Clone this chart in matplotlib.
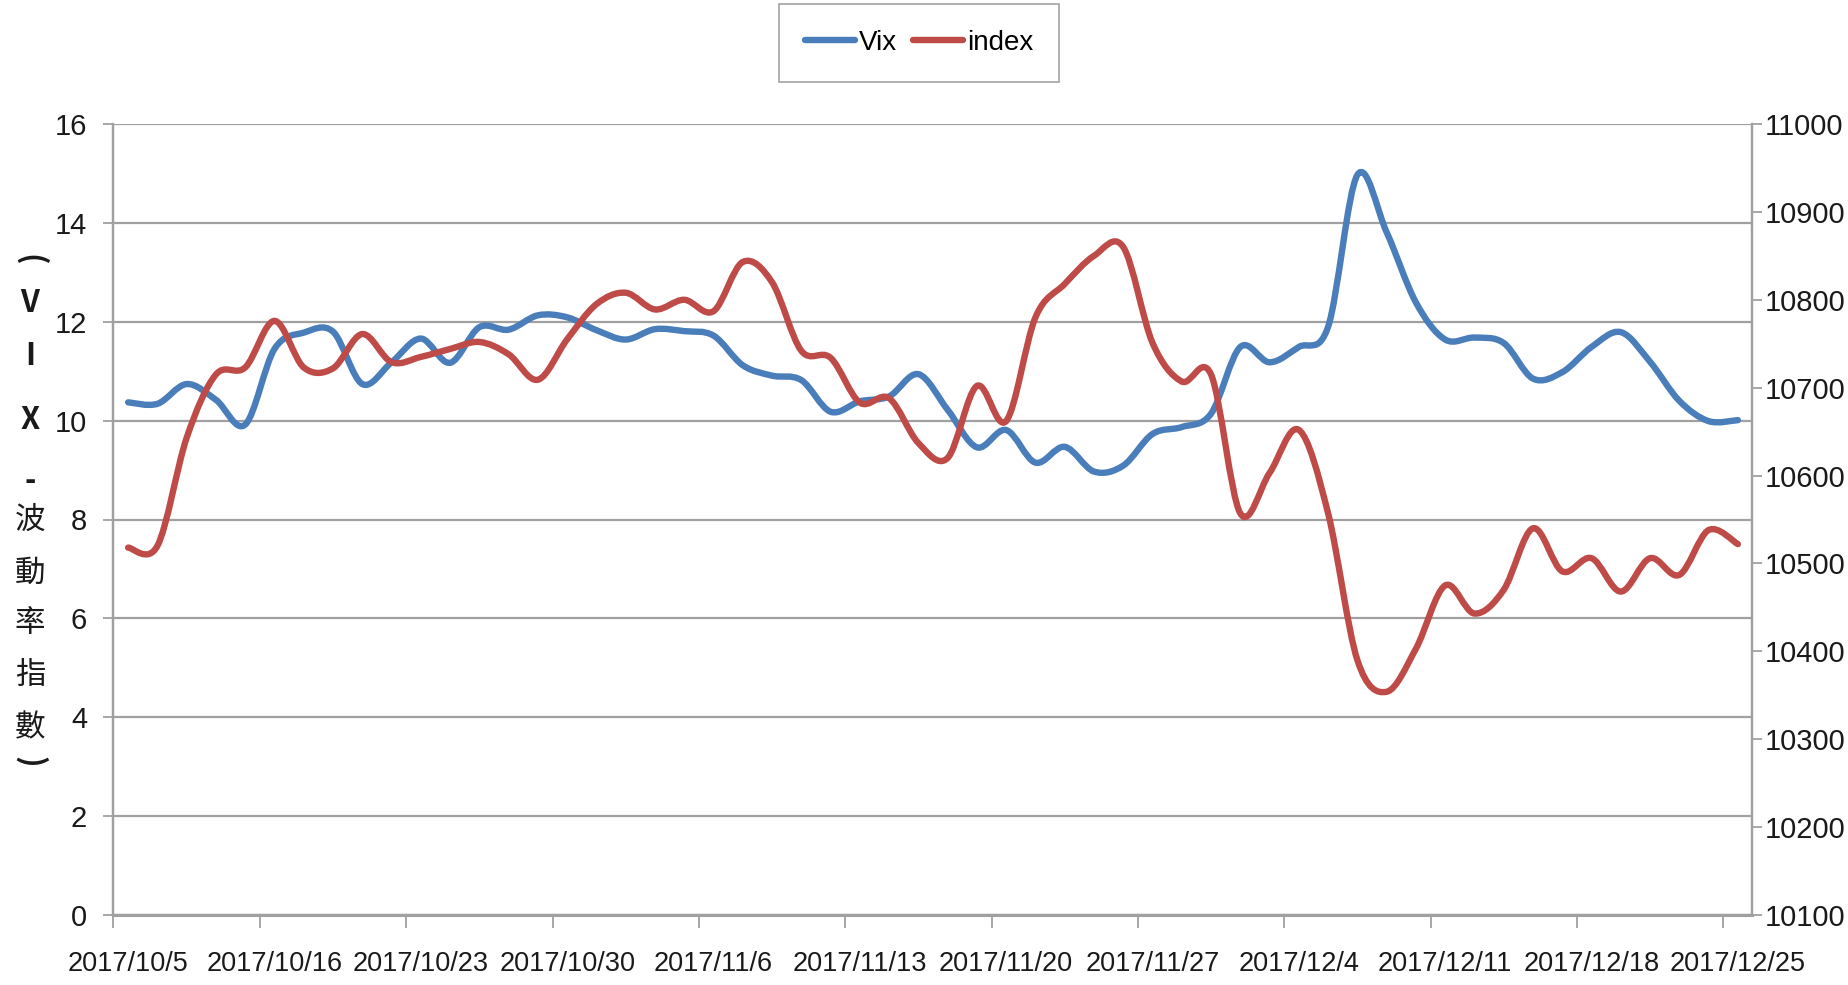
import matplotlib
matplotlib.use('Agg')
import matplotlib.pyplot as plt
from matplotlib.path import Path
from matplotlib.patches import PathPatch
from matplotlib.lines import Line2D

# ---------------- data ----------------
dates = ['2017/10/5', '2017/10/6', '2017/10/11', '2017/10/12', '2017/10/13',
         '2017/10/16', '2017/10/17', '2017/10/18', '2017/10/19', '2017/10/20',
         '2017/10/23', '2017/10/24', '2017/10/25', '2017/10/26', '2017/10/27',
         '2017/10/30', '2017/10/31', '2017/11/1', '2017/11/2', '2017/11/3',
         '2017/11/6', '2017/11/7', '2017/11/8', '2017/11/9', '2017/11/10',
         '2017/11/13', '2017/11/14', '2017/11/15', '2017/11/16', '2017/11/17',
         '2017/11/20', '2017/11/21', '2017/11/22', '2017/11/23', '2017/11/24',
         '2017/11/27', '2017/11/28', '2017/11/29', '2017/11/30', '2017/12/1',
         '2017/12/4', '2017/12/5', '2017/12/6', '2017/12/7', '2017/12/8',
         '2017/12/11', '2017/12/12', '2017/12/13', '2017/12/14', '2017/12/15',
         '2017/12/18', '2017/12/19', '2017/12/20', '2017/12/21', '2017/12/22',
         '2017/12/25']

vix = [10.37, 10.34, 10.74, 10.42, 9.92, 11.45, 11.78, 11.80, 10.74, 11.18,
       11.66, 11.17, 11.89, 11.84, 12.13, 12.09, 11.83, 11.64, 11.85, 11.81,
       11.72, 11.12, 10.91, 10.82, 10.18, 10.39, 10.49, 10.94, 10.22, 9.46,
       9.81, 9.15, 9.47, 8.97, 9.09, 9.73, 9.87, 10.14, 11.49, 11.18,
       11.49, 11.90, 14.97, 13.81, 12.39, 11.64, 11.68, 11.57, 10.85, 10.98,
       11.49, 11.79, 11.19, 10.40, 9.99, 10.01]

index = [10518, 10520, 10643, 10715, 10723, 10776, 10723, 10722, 10761, 10729,
         10735, 10744, 10752, 10738, 10709, 10755, 10795, 10808, 10789, 10800,
         10787, 10843, 10820, 10742, 10734, 10683, 10688, 10637, 10620, 10702,
         10662, 10780, 10818, 10850, 10860, 10751, 10707, 10715, 10557, 10603,
         10652, 10557, 10390, 10354, 10403, 10475, 10443, 10470, 10540, 10491,
         10506, 10468, 10506, 10487, 10538, 10522]

left_ticks = [0, 2, 4, 6, 8, 10, 12, 14, 16]
right_ticks = [10100, 10200, 10300, 10400, 10500, 10600, 10700, 10800, 10900, 11000]
ylabel_chars = ['(', 'V', 'I', 'X', '-', '波', '動', '率', '指', '數', ')']

BLUE = '#4A7EBB'
RED = '#BE4B48'
GRID = '#A0A0A0'
TXT = '#1a1a1a'

LATIN = ['Liberation Sans', 'DejaVu Sans']
CJK = ['Noto Sans CJK TC', 'DejaVu Sans']

W, H = 1849, 985
fig = plt.figure(figsize=(W / 100, H / 100), dpi=100)
L, R, T, B = 113.5 / W, 1752.5 / W, 1 - 124 / H, 1 - 915 / H
ax = fig.add_axes([L, B, R - L, T - B])
ax2 = ax.twinx()


def smooth_path(xs, ys):
    n = len(xs)
    verts = [(xs[0], ys[0])]
    codes = [Path.MOVETO]
    for i in range(n - 1):
        a = i - 1 if i > 0 else i
        d = i + 2 if i + 2 < n else i + 1
        c1 = (xs[i] + (xs[i + 1] - xs[a]) / 6.0, ys[i] + (ys[i + 1] - ys[a]) / 6.0)
        c2 = (xs[i + 1] - (xs[d] - xs[i]) / 6.0, ys[i + 1] - (ys[d] - ys[i]) / 6.0)
        verts += [c1, c2, (xs[i + 1], ys[i + 1])]
        codes += [Path.CURVE4] * 3
    return Path(verts, codes)


xs = list(range(len(dates)))
LW = 4.6
ax.add_patch(PathPatch(smooth_path(xs, vix), fill=False, edgecolor=BLUE,
                       linewidth=LW, capstyle='round', joinstyle='round', zorder=3))
ax2.add_patch(PathPatch(smooth_path(xs, index), fill=False, edgecolor=RED,
                        linewidth=LW, capstyle='round', joinstyle='round', zorder=3))

ax.set_xlim(-0.5, len(dates) - 0.5)
ax.set_ylim(0, 16)
ax2.set_ylim(10100, 11000)

# x axis: tick marks at boundaries every 5 categories, labels at category centres
ax.set_xticks([i - 0.5 for i in range(0, len(dates), 5)])
ax.set_xticklabels([])
ax.set_xticks(list(range(0, len(dates), 5)), minor=True)
ax.set_xticklabels([dates[i] for i in range(0, len(dates), 5)], minor=True,
                   family=LATIN, fontsize=19.5, color=TXT)
ax.tick_params(axis='x', which='major', length=9, width=1.3, color=GRID, direction='out')
ax.tick_params(axis='x', which='minor', length=0, pad=26)

ax.set_yticks(left_ticks)
ax.set_yticklabels([str(v) for v in left_ticks], family=LATIN, fontsize=21, color=TXT)
ax.tick_params(axis='y', length=7, width=1.3, color=GRID, pad=12)
ax2.set_yticks(right_ticks)
ax2.set_yticklabels([str(v) for v in right_ticks], family=LATIN, fontsize=21, color=TXT)
ax2.tick_params(axis='y', length=7, width=1.3, color=GRID, pad=1.5)

ax.grid(axis='y', color=GRID, linewidth=1.6)
ax.set_axisbelow(True)
for a in (ax, ax2):
    a.spines['top'].set_visible(False)
    for s in ('left', 'right', 'bottom'):
        a.spines[s].set_color(GRID)
        a.spines[s].set_linewidth(1.6)
ax.spines['bottom'].set_linewidth(2.2)
ax2.set_zorder(ax.get_zorder() + 1)
ax2.patch.set_visible(False)

# vertical stacked y-axis title (parentheses turned sideways as in stacked text)
ypos = [260, 303, 356, 420, 481, 520, 573, 623, 675, 728, 762]
for ch, yp in zip(ylabel_chars, ypos):
    is_cjk = ch in '波動率指數'
    rot = -90 if ch in '()' else 0
    fig.text(30 / W, 1 - yp / H, ch, ha='center', va='center', rotation=rot,
             rotation_mode='anchor', family=CJK, fontsize=22,
             fontweight='normal' if is_cjk else 'bold', color=TXT)

# legend
handles = [Line2D([], [], color=BLUE, lw=LW, solid_capstyle='round'),
           Line2D([], [], color=RED, lw=LW, solid_capstyle='round')]
leg = fig.legend(handles, ['Vix', 'index'], loc='center', bbox_to_anchor=(919 / W, 1 - 43 / H),
                 ncol=2, frameon=True, fancybox=False, handlelength=1.8, handletextpad=0.15,
                 columnspacing=0.55, borderpad=0.95, prop={'family': LATIN, 'size': 20})
leg.get_frame().set_edgecolor('#8c8c8c')
leg.get_frame().set_linewidth(1.2)

fig.savefig('out.png', dpi=100)
